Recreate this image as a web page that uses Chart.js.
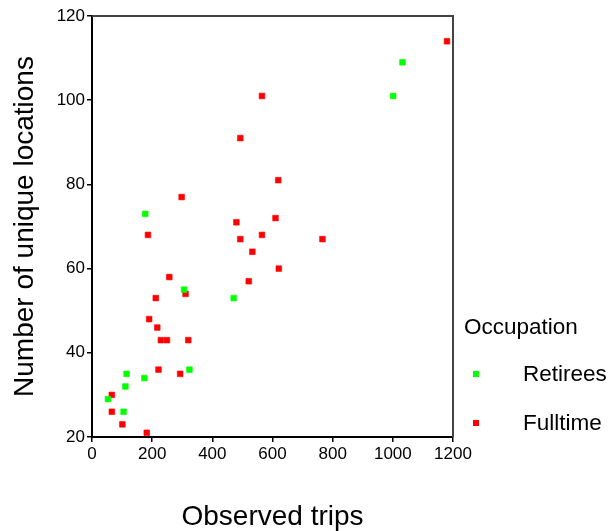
<!DOCTYPE html>
<html>
<head>
<meta charset="utf-8">
<script src="https://cdn.jsdelivr.net/npm/chart.js@4"></script>
<style>
  body { margin: 0; background: #fff; font-family: "Liberation Sans", Arial, sans-serif; }
  #wrap { position: relative; width: 609px; height: 531px; }
  #legend { position: absolute; left: 464px; top: 313px; color: #000; }
  #legend .title { font-size: 22.5px; line-height: 28px; }
  #legend .item { position: absolute; left: 0; font-size: 22.5px; line-height: 26px; white-space: nowrap; }
  #legend .box { position: absolute; left: 9px; top: 10px; width: 6px; height: 6px; }
  #legend .lbl { position: absolute; left: 59px; top: 0; }
</style>
</head>
<body>
<div id="wrap">
  <canvas id="chart" width="609" height="531"></canvas>
  <div id="legend"></div>
</div>
<script>
/* ===== data ===== */
var seriesNames = ["Retirees", "Fulltime"];
var seriesColors = ["#00ff00", "#ff0000"];

var retireesTrips = [1032, 1001, 177, 306, 471, 324, 115, 174, 111, 53, 105];
var retireesLocations = [109, 101, 73, 55, 53, 36, 35, 34, 32, 29, 26];

var fulltimeTrips = [1180, 565, 493, 619, 298, 480, 610, 186, 493, 565, 766, 533, 621, 257, 521, 311, 212, 190, 217, 229, 249, 320, 221, 293, 66, 66, 101, 182];
var fulltimeLocations = [114, 101, 91, 81, 77, 71, 72, 68, 67, 68, 67, 64, 60, 58, 57, 54, 53, 48, 46, 43, 43, 43, 36, 35, 30, 26, 23, 21];

var xTicks = [0, 200, 400, 600, 800, 1000, 1200];
var yTicks = [20, 40, 60, 80, 100, 120];

/* ===== helpers ===== */
function toPoints(xs, ys) {
    var out = [];
    for (var i = 0; i < xs.length; i++) {
        out.push({ x: xs[i], y: ys[i] });
    }
    return out;
}

function pointSet(name, color, pts) {
    return {
        label: name,
        data: pts,
        pointStyle: 'rect',
        pointRadius: 4,
        pointBorderWidth: 1,
        backgroundColor: color,
        borderColor: color + "99",
        pointHoverRadius: 4
    };
}

// top and right frame of the plot box
var frame = {
    id: 'frame',
    afterDraw: function(chart) {
        var a = chart.chartArea, c = chart.ctx;
        c.save();
        c.strokeStyle = "#444";
        c.lineWidth = 2;
        c.beginPath();
        c.moveTo(a.left, a.top);
        c.lineTo(a.right, a.top);
        c.lineTo(a.right, a.bottom);
        c.stroke();
        c.restore();
    }
};

var tickFont = { family: '"Liberation Sans", Arial, sans-serif', size: 17 };
var titleFont = { family: '"Liberation Sans", Arial, sans-serif', size: 28 };

var ctx = document.getElementById("chart");
var chart = new Chart(ctx, {
    type: 'scatter',
    data: {
        datasets: [
            pointSet(seriesNames[0], seriesColors[0], toPoints(retireesTrips, retireesLocations)),
            pointSet(seriesNames[1], seriesColors[1], toPoints(fulltimeTrips, fulltimeLocations))
        ]
    },
    plugins: [frame],
    options: {
        responsive: false,
        animation: false,
        layout: { padding: { left: 0, top: 16, right: 156, bottom: 0 } },
        plugins: {
            legend: { display: false },
            tooltip: { enabled: false }
        },
        scales: {
            x: {
                type: 'linear',
                min: 0,
                max: 1200,
                afterBuildTicks: function(scale) {
                    scale.ticks = xTicks.map(function(v) { return { value: v }; });
                },
                afterFit: function(scale) { scale.height = 94; },
                ticks: {
                    color: '#000', font: tickFont, padding: 2, maxRotation: 0,
                    callback: function(v) { return String(v); }
                },
                grid: { drawOnChartArea: false, drawTicks: true, tickLength: 5, color: '#000', lineWidth: 1.5 },
                border: { color: '#000', width: 2 },
                title: { display: true, text: 'Observed trips', color: '#000', font: titleFont, padding: { top: 0, bottom: -3 } }
            },
            y: {
                type: 'linear',
                min: 20,
                max: 120,
                afterBuildTicks: function(scale) {
                    scale.ticks = yTicks.map(function(v) { return { value: v }; });
                },
                afterFit: function(scale) { scale.width = 92; },
                ticks: {
                    color: '#000', font: tickFont, padding: 2,
                    callback: function(v) { return String(v); }
                },
                grid: { drawOnChartArea: false, drawTicks: true, tickLength: 5, color: '#000', lineWidth: 1.5 },
                border: { color: '#000', width: 2 },
                title: { display: true, text: 'Number of unique locations', color: '#000', font: titleFont, padding: { top: 8, bottom: 0 } }
            }
        }
    }
});

/* ===== legend ===== */
var legend = document.getElementById("legend");
var html = '<div class="title">Occupation</div>';
var itemTops = [48, 97];
for (var i = 0; i < seriesNames.length; i++) {
    html += '<div class="item" style="top:' + itemTops[i] + 'px">' +
        '<span class="box" style="background:' + seriesColors[i] + '"></span>' +
        '<span class="lbl">' + seriesNames[i] + '</span></div>';
}
legend.innerHTML = html;
</script>
</body>
</html>
